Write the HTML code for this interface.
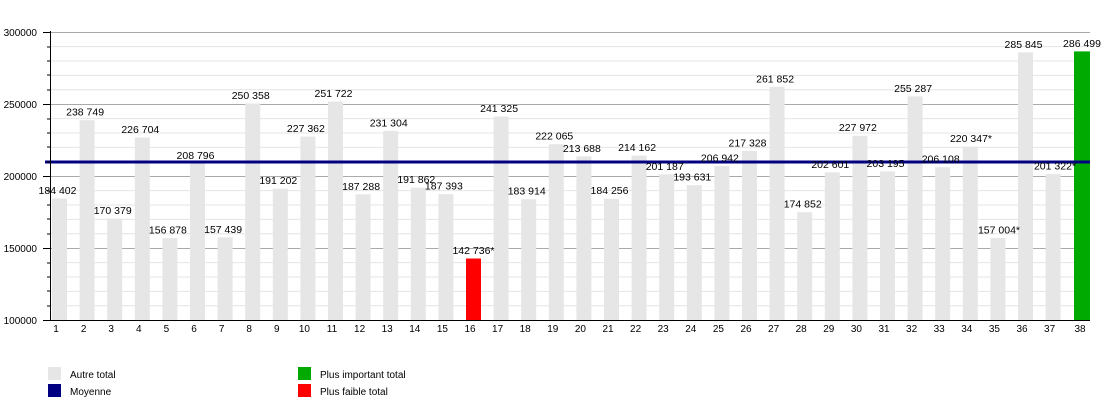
<!DOCTYPE html>
<html><head><meta charset="utf-8"><style>
html,body{margin:0;padding:0;background:#fff;}
svg{display:block;font-family:"Liberation Sans",Arial,sans-serif;}
</style></head><body>
<svg width="1120" height="400" viewBox="0 0 1120 400" xmlns="http://www.w3.org/2000/svg">
<g stroke="#e4e4e4" stroke-width="1">
<line x1="50" y1="46.6" x2="1090" y2="46.6"/><line x1="50" y1="61.0" x2="1090" y2="61.0"/><line x1="50" y1="75.4" x2="1090" y2="75.4"/><line x1="50" y1="89.8" x2="1090" y2="89.8"/>
<line x1="50" y1="118.6" x2="1090" y2="118.6"/><line x1="50" y1="133.0" x2="1090" y2="133.0"/><line x1="50" y1="147.4" x2="1090" y2="147.4"/><line x1="50" y1="161.8" x2="1090" y2="161.8"/>
<line x1="50" y1="190.6" x2="1090" y2="190.6"/><line x1="50" y1="205.0" x2="1090" y2="205.0"/><line x1="50" y1="219.4" x2="1090" y2="219.4"/><line x1="50" y1="233.8" x2="1090" y2="233.8"/>
<line x1="50" y1="262.6" x2="1090" y2="262.6"/><line x1="50" y1="277.0" x2="1090" y2="277.0"/><line x1="50" y1="291.4" x2="1090" y2="291.4"/><line x1="50" y1="305.8" x2="1090" y2="305.8"/>
</g>
<g stroke="#aaaaaa" stroke-width="1">
<line x1="50" y1="32.5" x2="1090" y2="32.5"/><line x1="50" y1="104.5" x2="1090" y2="104.5"/><line x1="50" y1="176.5" x2="1090" y2="176.5"/><line x1="50" y1="248.5" x2="1090" y2="248.5"/>
</g>
<g fill="#e6e6e6">
<rect x="52" y="198.5" width="15" height="121.5"/>
<rect x="79.6" y="120.2" width="15" height="199.8"/>
<rect x="107.2" y="218.7" width="15" height="101.3"/>
<rect x="134.8" y="137.5" width="15" height="182.5"/>
<rect x="162.4" y="238.1" width="15" height="81.9"/>
<rect x="190" y="163.3" width="15" height="156.7"/>
<rect x="217.6" y="237.3" width="15" height="82.7"/>
<rect x="245.2" y="103.5" width="15" height="216.5"/>
<rect x="272.8" y="188.7" width="15" height="131.3"/>
<rect x="300.4" y="136.6" width="15" height="183.4"/>
<rect x="328" y="101.5" width="15" height="218.5"/>
<rect x="355.6" y="194.3" width="15" height="125.7"/>
<rect x="383.2" y="130.9" width="15" height="189.1"/>
<rect x="410.8" y="187.7" width="15" height="132.3"/>
<rect x="438.4" y="194.2" width="15" height="125.8"/>
<rect x="493.6" y="116.5" width="15" height="203.5"/>
<rect x="521.2" y="199.2" width="15" height="120.8"/>
<rect x="548.8" y="144.2" width="15" height="175.8"/>
<rect x="576.4" y="156.3" width="15" height="163.7"/>
<rect x="604" y="198.7" width="15" height="121.3"/>
<rect x="631.6" y="155.6" width="15" height="164.4"/>
<rect x="659.2" y="174.3" width="15" height="145.7"/>
<rect x="686.8" y="185.2" width="15" height="134.8"/>
<rect x="714.4" y="166" width="15" height="154"/>
<rect x="742" y="151" width="15" height="169"/>
<rect x="769.6" y="86.9" width="15" height="233.1"/>
<rect x="797.2" y="212.2" width="15" height="107.8"/>
<rect x="824.8" y="172.3" width="15" height="147.7"/>
<rect x="852.4" y="135.7" width="15" height="184.3"/>
<rect x="880" y="171.4" width="15" height="148.6"/>
<rect x="907.6" y="96.4" width="15" height="223.6"/>
<rect x="935.2" y="167.2" width="15" height="152.8"/>
<rect x="962.8" y="146.7" width="15" height="173.3"/>
<rect x="990.4" y="237.9" width="15" height="82.1"/>
<rect x="1018" y="52.4" width="15" height="267.6"/>
<rect x="1045.6" y="174.1" width="15" height="145.9"/>
</g>
<rect x="466" y="258.5" width="15" height="61.5" fill="#ff0000"/>
<rect x="1074" y="51.4" width="16" height="268.6" fill="#00aa00"/>
<line x1="45" y1="162" x2="1090" y2="162" stroke="#000080" stroke-width="3"/>
<g stroke="#000" stroke-width="1">
<line x1="50.5" y1="31" x2="50.5" y2="320"/>
<line x1="50" y1="320.5" x2="1090" y2="320.5"/>
<line x1="43" y1="32.5" x2="50" y2="32.5"/><line x1="43" y1="104.5" x2="50" y2="104.5"/><line x1="43" y1="176.5" x2="50" y2="176.5"/><line x1="43" y1="248.5" x2="50" y2="248.5"/><line x1="43" y1="320.5" x2="50" y2="320.5"/>
<line x1="47" y1="47" x2="50" y2="47"/><line x1="47" y1="61" x2="50" y2="61"/><line x1="47" y1="75" x2="50" y2="75"/><line x1="47" y1="90" x2="50" y2="90"/>
<line x1="47" y1="119" x2="50" y2="119"/><line x1="47" y1="133" x2="50" y2="133"/><line x1="47" y1="147" x2="50" y2="147"/><line x1="47" y1="162" x2="50" y2="162"/>
<line x1="47" y1="191" x2="50" y2="191"/><line x1="47" y1="205" x2="50" y2="205"/><line x1="47" y1="219" x2="50" y2="219"/><line x1="47" y1="234" x2="50" y2="234"/>
<line x1="47" y1="263" x2="50" y2="263"/><line x1="47" y1="277" x2="50" y2="277"/><line x1="47" y1="291" x2="50" y2="291"/><line x1="47" y1="306" x2="50" y2="306"/>
</g>
<g font-size="10" fill="#000" text-anchor="end">
<text x="37" y="36">300000</text><text x="37" y="108">250000</text><text x="37" y="180">200000</text><text x="37" y="252">150000</text><text x="37" y="324">100000</text>
</g>
<g font-size="10" fill="#000" text-anchor="middle">
<text x="56" y="332">1</text><text x="83.6" y="332">2</text><text x="111.2" y="332">3</text><text x="138.8" y="332">4</text><text x="166.4" y="332">5</text><text x="194" y="332">6</text><text x="221.6" y="332">7</text><text x="249.2" y="332">8</text><text x="276.8" y="332">9</text><text x="304.4" y="332">10</text><text x="332" y="332">11</text><text x="359.6" y="332">12</text><text x="387.2" y="332">13</text><text x="414.8" y="332">14</text><text x="442.4" y="332">15</text><text x="470" y="332">16</text><text x="497.6" y="332">17</text><text x="525.2" y="332">18</text><text x="552.8" y="332">19</text><text x="580.4" y="332">20</text><text x="608" y="332">21</text><text x="635.6" y="332">22</text><text x="663.2" y="332">23</text><text x="690.8" y="332">24</text><text x="718.4" y="332">25</text><text x="746" y="332">26</text><text x="773.6" y="332">27</text><text x="801.2" y="332">28</text><text x="828.8" y="332">29</text><text x="856.4" y="332">30</text><text x="884" y="332">31</text><text x="911.6" y="332">32</text><text x="939.2" y="332">33</text><text x="966.8" y="332">34</text><text x="994.4" y="332">35</text><text x="1022" y="332">36</text><text x="1049.6" y="332">37</text><text x="1080" y="332">38</text>
</g>
<g font-size="10.5" fill="#000" text-anchor="middle">
<text x="57.5" y="194">184 402</text>
<text x="85.1" y="115.7">238 749</text>
<text x="112.7" y="214.2">170 379</text>
<text x="140.3" y="133">226 704</text>
<text x="167.9" y="233.6">156 878</text>
<text x="195.5" y="158.8">208 796</text>
<text x="223.1" y="232.8">157 439</text>
<text x="250.7" y="99">250 358</text>
<text x="278.3" y="184.2">191 202</text>
<text x="305.9" y="132.1">227 362</text>
<text x="333.5" y="97">251 722</text>
<text x="361.1" y="189.8">187 288</text>
<text x="388.7" y="126.4">231 304</text>
<text x="416.3" y="183.2">191 862</text>
<text x="443.9" y="189.7">187 393</text>
<text x="473.5" y="254">142 736*</text>
<text x="499.1" y="112">241 325</text>
<text x="526.7" y="194.7">183 914</text>
<text x="554.3" y="139.7">222 065</text>
<text x="581.9" y="151.8">213 688</text>
<text x="609.5" y="194.2">184 256</text>
<text x="637.1" y="151.1">214 162</text>
<text x="664.7" y="169.8">201 187</text>
<text x="692.3" y="180.7">193 631</text>
<text x="719.9" y="161.5">206 942</text>
<text x="747.5" y="146.5">217 328</text>
<text x="775.1" y="82.4">261 852</text>
<text x="802.7" y="207.7">174 852</text>
<text x="830.3" y="167.8">202 601</text>
<text x="857.9" y="131.2">227 972</text>
<text x="885.5" y="166.9">203 195</text>
<text x="913.1" y="91.9">255 287</text>
<text x="940.7" y="162.7">206 108</text>
<text x="971" y="142.2">220 347*</text>
<text x="999" y="233.4">157 004*</text>
<text x="1023.5" y="47.9">285 845</text>
<text x="1055" y="169.6">201 322*</text>
<text x="1082" y="46.9">286 499</text>
</g>
<rect x="48" y="367" width="13" height="13" fill="#e6e6e6"/>
<rect x="48" y="384" width="13" height="13" fill="#000080"/>
<rect x="298" y="367" width="13" height="13" fill="#00aa00"/>
<rect x="298" y="384" width="13" height="13" fill="#ff0000"/>
<g font-size="10" fill="#000">
<text x="70" y="378">Autre total</text>
<text x="70" y="395">Moyenne</text>
<text x="320" y="378">Plus important total</text>
<text x="320" y="395">Plus faible total</text>
</g>
</svg>
</body></html>
